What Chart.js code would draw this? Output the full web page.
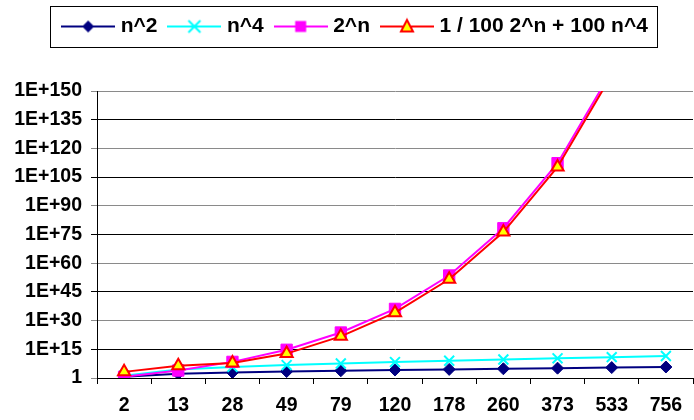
<!DOCTYPE html>
<html>
<head>
<meta charset="utf-8">
<script src="https://cdn.jsdelivr.net/npm/chart.js@4"></script>
<style>
  html, body { margin: 0; padding: 0; background: #fff; overflow: hidden; width: 694px; height: 420px; }
  #chart { position: absolute; left: 0; top: 0; }
</style>
</head>
<body>
<canvas id="chart" width="702" height="420"></canvas>
<script>
"use strict";

// categories (n)
const nValues = ["2", "13", "28", "49", "79", "120", "178", "260", "373", "533", "756"];

// series values
const nSquared = [4, 169, 784, 2401, 6241, 14400, 31684, 67600, 139129, 284089, 571536];
const nFourth = [16, 28561, 614656, 5.76e6, 3.89e7, 2.07e8, 1.0e9, 4.57e9, 1.94e10, 8.07e10, 3.27e11];
const twoPowN = [4, 8192, 2.68e8, 5.6e14, 6.0e23, 1.33e36, 3.8e53, 1.85e78, 1.92e112, 2.8e160, 3.8e227];
const mixed = [1600, 2.86e6, 6.42e7, 5.63e12, 6.0e21, 1.33e34, 3.8e51, 1.85e76, 1.92e110, 2.8e158, 3.8e225];

const seriesNames = ["n^2", "n^4", "2^n", "1 / 100 2^n + 100 n^4"];

// y axis ticks
const yTickValues = [1, 1e15, 1e30, 1e45, 1e60, 1e75, 1e90, 1e105, 1e120, 1e135, 1e150];
const yTickLabels = ["1", "1E+15", "1E+30", "1E+45", "1E+60", "1E+75", "1E+90", "1E+105", "1E+120", "1E+135", "1E+150"];

const FONT = "'Liberation Sans', Arial, sans-serif";
const LEGEND_SHIFT = 6;

// legend symbol: line with marker in the middle
function makeSymbol(stroke, shape, fill) {
  const c = document.createElement("canvas");
  c.width = 54;
  c.height = 20;
  const g = c.getContext("2d");
  g.strokeStyle = stroke;
  g.lineWidth = 2;
  g.beginPath();
  g.moveTo(0, 10);
  g.lineTo(54, 10);
  g.stroke();
  g.fillStyle = fill;
  g.beginPath();
  if (shape === "diamond") {
    g.moveTo(27, 4); g.lineTo(33, 10); g.lineTo(27, 16); g.lineTo(21, 10); g.closePath();
    g.fill();
  } else if (shape === "x") {
    g.moveTo(21, 4); g.lineTo(33, 16); g.moveTo(33, 4); g.lineTo(21, 16);
    g.stroke();
  } else if (shape === "square") {
    g.rect(21.5, 4.5, 11, 11);
    g.fill();
  } else if (shape === "triangle") {
    g.moveTo(27, 3.5); g.lineTo(33, 15); g.lineTo(21, 15); g.closePath();
    g.fill();
    g.stroke();
  }
  return c;
}

const legendSymbols = [
  makeSymbol("#000080", "diamond", "#000080"),
  makeSymbol("#00ffff", "x", "#00ffff"),
  makeSymbol("#ff00ff", "square", "#ff00ff"),
  makeSymbol("#ff0000", "triangle", "#ffff00")
];

// push plot area down below the legend, nudge legend right a bit
const legendGap = {
  id: "legendGap",
  beforeInit(chart) {
    const legend = chart.legend;
    const fit = legend.fit;
    legend.fit = function() {
      fit.bind(legend)();
      this.height += 44;
    };
    const draw = legend.draw;
    legend.draw = function() {
      const c = chart.ctx;
      c.save();
      c.translate(LEGEND_SHIFT, 0);
      draw.bind(legend)();
      c.restore();
    };
  }
};

// box around the legend items
const legendBox = {
  id: "legendBox",
  afterDraw(chart) {
    const boxes = chart.legend.legendHitBoxes;
    if (!boxes || !boxes.length) return;
    const first = boxes[0];
    const last = boxes[boxes.length - 1];
    const ctx = chart.ctx;
    const left = Math.round(first.left - 16 + LEGEND_SHIFT) + 0.5;
    const right = Math.round(last.left + last.width + 9 + LEGEND_SHIFT) + 0.5;
    const mid = first.top + first.height / 2;
    const top = Math.round(mid - 21) + 0.5;
    const bottom = Math.round(mid + 20) + 0.5;
    ctx.save();
    ctx.strokeStyle = "#000";
    ctx.lineWidth = 1;
    ctx.strokeRect(left, top, right - left, bottom - top);
    ctx.restore();
  }
};

let ctx = document.getElementById("chart").getContext("2d");

let chart = new Chart(ctx, {
  type: "line",
  data: {
    labels: nValues,
    datasets: [
      {
        label: seriesNames[0],
        data: nSquared,
        borderColor: "#000080",
        backgroundColor: "#000080",
        borderWidth: 2,
        pointStyle: "rectRot",
        pointRadius: 6,
        pointBorderWidth: 1,
        order: 4
      },
      {
        label: seriesNames[1],
        data: nFourth,
        borderColor: "#00ffff",
        backgroundColor: "#00ffff",
        borderWidth: 2,
        pointStyle: "crossRot",
        pointRadius: 7,
        pointBorderWidth: 2,
        order: 3
      },
      {
        label: seriesNames[2],
        data: twoPowN,
        borderColor: "#ff00ff",
        backgroundColor: "#ff00ff",
        borderWidth: 2,
        pointStyle: "rect",
        pointRadius: 8,
        pointBorderWidth: 1,
        order: 2
      },
      {
        label: seriesNames[3],
        data: mixed,
        borderColor: "#ff0000",
        backgroundColor: "#ffff00",
        borderWidth: 2,
        pointStyle: "triangle",
        pointRadius: 7,
        pointBorderWidth: 2,
        order: 1
      }
    ]
  },
  options: {
    responsive: false,
    animation: false,
    layout: { padding: { top: 1, left: 0, right: 0, bottom: 0 } },
    plugins: {
      tooltip: { enabled: false },
      legend: {
        position: "top",
        sort: (a, b) => a.datasetIndex - b.datasetIndex,
        labels: {
          usePointStyle: true,
          pointStyleWidth: 44,
          boxHeight: 16,
          padding: 15,
          color: "#000",
          font: { family: FONT, size: 21, weight: "bold" },
          generateLabels: function(chart) {
            return chart.data.datasets.map((ds, i) => ({
              text: ds.label,
              datasetIndex: i,
              pointStyle: legendSymbols[i],
              fillStyle: ds.backgroundColor,
              strokeStyle: ds.borderColor,
              lineWidth: 0,
              hidden: false
            }));
          }
        }
      }
    },
    scales: {
      x: {
        type: "category",
        offset: true,
        afterFit: s => { s.height = 42; },
        grid: {
          offset: true,
          drawOnChartArea: false,
          drawTicks: true,
          tickLength: 6,
          color: "#000"
        },
        border: { display: true, color: "#000", width: 1 },
        ticks: {
          color: "#000",
          padding: 10,
          maxRotation: 0,
          autoSkip: false,
          font: { family: FONT, size: 19.5, weight: "bold" }
        }
      },
      y: {
        type: "logarithmic",
        min: 1,
        max: 1e150,
        afterFit: s => { s.width = 97; },
        afterBuildTicks: s => {
          s.ticks = yTickValues.map(v => ({ value: v }));
        },
        grid: {
          color: c => (c.index % 2 === 0 ? "#8a8a8a" : "#000"),
          lineWidth: 1,
          drawTicks: true,
          tickLength: 6
        },
        border: { display: true, color: "#000", width: 1 },
        ticks: {
          color: "#000",
          padding: 9,
          autoSkip: false,
          font: { family: FONT, size: 19.5, weight: "bold" },
          callback: function(value) {
            const i = yTickValues.indexOf(value);
            return i === -1 ? "" : yTickLabels[i];
          }
        }
      }
    }
  },
  plugins: [legendGap, legendBox]
});
</script>
</body>
</html>
